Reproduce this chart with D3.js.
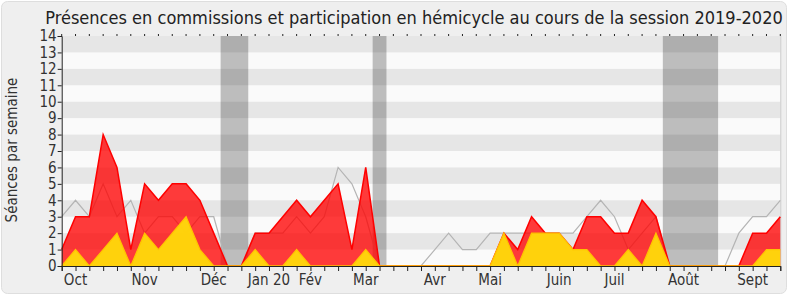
<!DOCTYPE html>
<html><head><meta charset="utf-8">
<script src="https://cdn.jsdelivr.net/npm/d3@7"></script>
<style>
html,body{margin:0;padding:0;background:#ffffff;}
svg{display:block;font-family:"DejaVu Sans Condensed","DejaVu Sans",sans-serif;}
</style></head>
<body>
<svg id="chart" width="790" height="300"></svg>
<script>
// ---- data ----
const title = "Présences en commissions et participation en hémicycle au cours de la session 2019-2020";
const yLabel = "Séances par semaine";
const weeks = d3.range(0, 53);
const presences = [1,3,3,8,6,1,5,4,5,5,4,2,0,0,2,2,3,4,3,4,5,1,6,0,0,0,0,0,0,0,0,0,2,1,3,2,2,1,3,3,2,2,4,3,0,0,0,0,0,0,2,2,3];
const hemicycle = [0,1,0,1,2,0,2,1,2,3,1,0,0,0,1,0,0,1,0,0,0,0,1,0,0,0,0,0,0,0,0,0,2,0,2,2,2,1,1,0,0,1,0,2,0,0,0,0,0,0,0,1,1];
const median    = [3,4,3,5,3,4,2,3,3,2,3,3,0,0,2,2,2,3,2,3,6,5,3,0,0,0,0,1,2,1,1,2,2,2,2,2,2,2,3,4,3,1,2,3,0,0,0,0,0,2,3,3,4];
const vacations = [[12,13],[23,23],[44,47]];
const monthLabels = ["Oct","Nov","Déc","Jan 20","Fév","Mar","Avr","Mai","Juin","Juil","Août","Sept"];
const monthWeeks  = [1,6,11,15,18,22,27,31,36,40,45,50];
const yTicks = d3.range(0, 15);

// ---- layout ----
const svg = d3.select("#chart");
const pL = 61.7, pR = 780.3, pT = 36, pB = 266;
const x = d3.scaleLinear().domain([0, 52]).range([pL, pR]);
const y = d3.scaleLinear().domain([0, 14]).range([pB, pT]);

// outer frame
svg.append("rect").attr("x",1.5).attr("y",1.5).attr("width",785).attr("height",292)
  .attr("rx",6).attr("fill","#efefef").attr("stroke","#dedede");

// plot background
svg.append("rect").attr("x",pL).attr("y",pT).attr("width",pR-pL).attr("height",pB-pT)
  .attr("fill","#fafafa");

// vacation bands
svg.append("g").selectAll("rect").data(vacations).join("rect")
  .attr("x", d => x(d[0]-0.5)).attr("width", d => x(d[1]+0.5)-x(d[0]-0.5))
  .attr("y", pT).attr("height", pB-pT).attr("fill","#bdbdbd");

// dark stripes (odd bands)
svg.append("g").selectAll("rect").data(yTicks.filter(v => v % 2 === 1)).join("rect")
  .attr("x", pL).attr("width", pR-pL)
  .attr("y", d => y(d+1)).attr("height", d => y(d)-y(d+1))
  .attr("fill","#000").attr("fill-opacity",0.08);

// right border
svg.append("line").attr("x1",pR+0.5).attr("x2",pR+0.5).attr("y1",pT).attr("y2",pB)
  .attr("stroke","#cccccc");

// median grey line
svg.append("path").datum(weeks)
  .attr("d", d3.line().x(i => x(i)).y(i => y(median[i])))
  .attr("fill","none").attr("stroke","#b4b4b4").attr("stroke-width",1.2);

// red area
svg.append("path").datum(weeks)
  .attr("d", d3.area().x(i => x(i)).y0(y(0)).y1(i => y(presences[i])))
  .attr("fill","#ff0000").attr("fill-opacity",0.77);
svg.append("path").datum(weeks)
  .attr("d", d3.line().x(i => x(i)).y(i => y(presences[i])))
  .attr("fill","none").attr("stroke","#ff0000").attr("stroke-width",1.5);

// yellow area
svg.append("path").datum(weeks)
  .attr("d", d3.area().x(i => x(i)).y0(y(0)).y1(i => y(hemicycle[i])))
  .attr("fill","#ffd70a").attr("fill-opacity",0.97);
svg.append("path").datum(weeks)
  .attr("d", d3.line().x(i => x(i)).y(i => y(hemicycle[i])))
  .attr("fill","none").attr("stroke","#ffc400").attr("stroke-width",1.3);

// y axis
const yAxis = svg.append("g").attr("transform",`translate(${pL},0)`)
  .call(d3.axisLeft(y).tickValues(yTicks).tickSize(4).tickFormat(d3.format("d")));
yAxis.select(".domain").attr("stroke","#222");
yAxis.selectAll(".tick line").attr("stroke","#222");
yAxis.attr("font-family",null);
yAxis.selectAll("text").attr("font-size",15).attr("fill","#333").attr("x",-5);

// x axis bottom
const xAxis = svg.append("g").attr("transform",`translate(0,${pB})`)
  .call(d3.axisBottom(x).tickValues(weeks).tickSize(5).tickFormat(""));
xAxis.select(".domain").attr("stroke","#222");
xAxis.selectAll(".tick line").attr("stroke","#222");

// top tick dots
svg.append("g").selectAll("line").data(weeks).join("line")
  .attr("x1", i => x(i)).attr("x2", i => x(i)).attr("y1", pT-2).attr("y2", pT)
  .attr("stroke","#222");

// month labels
svg.append("g").selectAll("text").data(monthLabels).join("text")
  .attr("x", (d,k) => x(monthWeeks[k])).attr("y", 285)
  .attr("text-anchor","middle").attr("font-size",15).attr("fill","#333").text(d => d);

// y label
svg.append("text").attr("transform","translate(17,150) rotate(-90)")
  .attr("text-anchor","middle").attr("font-size",15).attr("fill","#333").text(yLabel);

// title
const t = svg.append("text").attr("x",414).attr("y",24).attr("text-anchor","middle")
  .attr("font-size",18).attr("fill","#222").text(title);
const w = t.node().getComputedTextLength();
t.attr("font-size", 18 * 738 / w);
</script>
</body></html>
